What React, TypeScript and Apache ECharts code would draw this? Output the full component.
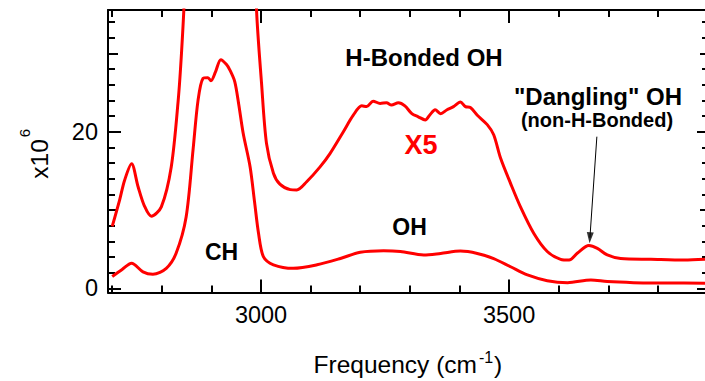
import React, { useEffect, useRef } from "react";
import * as echarts from "echarts";

// ---- data (frequency in cm^-1, signal in units of 10^6) ----
const freqLower = [2700, 2720, 2739, 2762, 2782, 2809, 2829, 2849, 2863, 2873, 2883, 2893, 2899, 2908, 2919, 2930, 2937, 2947, 2955, 2964, 2978, 2987, 2995, 3005, 3025, 3065, 3113, 3160, 3200, 3247, 3281, 3328, 3362, 3402, 3436, 3469, 3503, 3537, 3577, 3618, 3665, 3698, 3751, 3820, 3895];
const valLower = [1.5, 2.4, 3.2, 2.1, 1.8, 2.55, 4.5, 9.1, 17.7, 24.0, 26.8, 26.9, 26.5, 27.6, 29.2, 28.6, 27.9, 26.4, 23.5, 19.8, 15.5, 11.0, 7.0, 4.0, 3.0, 2.55, 3.0, 3.8, 4.6, 4.8, 4.7, 4.25, 4.45, 4.75, 4.45, 3.8, 2.75, 1.7, 0.97, 0.72, 1.06, 0.85, 0.72, 0.68, 0.64];

const freqX5 = [2700, 2715, 2725, 2739, 2752, 2765, 2779, 2799, 2819, 2833, 2840, 2846, 2860, 2900, 2920, 2950, 2975, 2985, 2991, 3001, 3011, 3025, 3038, 3059, 3072, 3092, 3119, 3139, 3166, 3186, 3203, 3213, 3226, 3240, 3253, 3263, 3277, 3290, 3304, 3317, 3331, 3341, 3351, 3362, 3375, 3388, 3402, 3412, 3422, 3436, 3456, 3469, 3483, 3503, 3523, 3550, 3577, 3604, 3621, 3638, 3661, 3678, 3698, 3725, 3786, 3853, 3895];
const valX5 = [7.9, 11.3, 13.8, 15.9, 13.0, 10.5, 9.2, 10.4, 15.5, 24.0, 30.4, 38.0, 70.0, 135.0, 146.0, 130.0, 75.0, 50.0, 35.5, 26.2, 18.5, 14.7, 13.3, 12.6, 12.55, 13.6, 15.5, 17.2, 20.0, 22.1, 23.3, 23.2, 23.9, 23.6, 23.7, 23.4, 23.7, 23.3, 22.3, 21.9, 21.5, 22.2, 22.8, 22.3, 22.8, 23.2, 23.8, 23.2, 23.1, 22.1, 20.9, 19.6, 16.6, 13.4, 10.4, 7.0, 4.7, 3.7, 3.6, 4.5, 5.45, 5.1, 4.25, 3.8, 3.7, 3.6, 3.7];

const xLabelTicks = [3000, 3500];
const xMinorTicks = [2700, 2800, 2900, 3100, 3200, 3300, 3400, 3600, 3700, 3800];
const yLabelTicks = [0, 20];
const yMediumTicks = [10, 30];
const yMinorTicks = [2, 4, 6, 8, 12, 14, 16, 18, 22, 24, 26, 28, 32, 34];
const xRange = [2691.5, 3895];
const yRange = [-0.54, 35.54];

// arrow pointing at the "dangling" OH peak
const arrowStart = [3677, 19.36];
const arrowEnd = [3663, 6.45];
const arrowHead = [3663, 6.45];

const FONT = '"Liberation Sans", Arial, Helvetica, sans-serif';

export default function App() {
  const ref = useRef<HTMLDivElement>(null);

  useEffect(() => {
    document.body.style.margin = "0";
    if (!ref.current) return;
    const chart = echarts.init(ref.current, null, { renderer: "svg" });

    const black = { color: "#000", width: 2 };
    const labelSt = { margin: 10, fontSize: 23.5, color: "#000", fontFamily: FONT, formatter: (v: number) => String(v) };
    const gridBox = { left: 108, top: 10, right: 0, bottom: 88.5, containLabel: false };
    const NGRID = 7;

    const mkAx = (range: number[]) => (gridIndex: number, position: string, opts: { line?: boolean; ticks?: number[]; len?: number; labels?: number[] }) => ({
      type: "value",
      gridIndex,
      position,
      min: range[0],
      max: range[1],
      axisLine: { show: !!opts.line, onZero: false, lineStyle: { ...black } },
      axisTick: opts.ticks
        ? { show: true, inside: true, length: opts.len, customValues: [...opts.ticks], lineStyle: { ...black } }
        : { show: false },
      axisLabel: opts.labels ? { show: true, customValues: [...opts.labels], ...labelSt } : { show: false },
      splitLine: { show: false },
    });
    const xAx = mkAx(xRange);
    const yAx = mkAx(yRange);

    const txt = (text: string, x: number, y: number, size: number, color = "#000", weight = "bold") => ({
      type: "text",
      x,
      y,
      silent: true,
      z: 10,
      style: {
        text,
        fill: color,
        font: `${weight} ${size}px ${FONT}`,
        textAlign: "center",
        textVerticalAlign: "middle",
      },
    });

    chart.setOption({
      animation: false,
      grid: Array.from({ length: NGRID }, () => ({ ...gridBox })),
      xAxis: [
        xAx(0, "bottom", { line: true, labels: xLabelTicks }),
        xAx(1, "bottom", { ticks: xLabelTicks, len: 13 }),
        xAx(2, "bottom", { ticks: xMinorTicks, len: 7 }),
        xAx(3, "top", { line: true, ticks: xLabelTicks, len: 13 }),
        xAx(4, "top", { ticks: xMinorTicks, len: 7 }),
        xAx(5, "bottom", {}),
        xAx(6, "top", {}),
      ],
      yAxis: [
        yAx(0, "left", { line: true, labels: yLabelTicks }),
        yAx(1, "left", { ticks: yLabelTicks, len: 13 }),
        yAx(2, "left", { ticks: yMinorTicks, len: 7 }),
        yAx(3, "right", { ticks: yLabelTicks, len: 8 }),
        yAx(4, "right", { ticks: yMinorTicks, len: 3 }),
        yAx(5, "left", { ticks: yMediumTicks, len: 10 }),
        yAx(6, "right", { ticks: yMediumTicks, len: 5 }),
      ],
      series: [
        {
          type: "line",
          xAxisIndex: 0,
          yAxisIndex: 0,
          data: freqLower.map((f, i) => [f, valLower[i]]),
          showSymbol: false,
          smooth: 0.3,
          clip: true,
          lineStyle: { color: "#ff0000", width: 3 },
        },
        {
          type: "line",
          xAxisIndex: 0,
          yAxisIndex: 0,
          data: freqX5.map((f, i) => [f, valX5[i]]),
          showSymbol: false,
          smooth: 0.3,
          clip: true,
          lineStyle: { color: "#ff0000", width: 3 },
        },
        {
          type: "line",
          xAxisIndex: 0,
          yAxisIndex: 0,
          data: [[...arrowStart], [...arrowEnd]],
          showSymbol: false,
          symbol: "none",
          lineStyle: { color: "#000", width: 1 },
          z: 5,
        },
        {
          type: "scatter",
          xAxisIndex: 0,
          yAxisIndex: 0,
          data: [[...arrowHead]],
          symbol: "triangle",
          symbolSize: [7, 11],
          symbolRotate: 176,
          itemStyle: { color: "#000" },
          z: 5,
        },
      ],
      graphic: [
        txt("H-Bonded OH", 424, 57.5, 24),
        txt("X5", 421, 145, 27, "#ff0000"),
        txt('"Dangling" OH', 598, 96, 24),
        txt("(non-H-Bonded)", 597, 119.5, 20),
        txt("CH", 221.5, 252, 23),
        txt("OH", 409.5, 226.5, 23),
        {
          type: "group",
          x: 0,
          y: 0,
          silent: true,
          children: [
            {
              type: "text",
              x: 477,
              y: 364,
              style: { text: "Frequency (cm", fill: "#000", font: `normal 24.5px ${FONT}`, textAlign: "right", textVerticalAlign: "middle" },
            },
            {
              type: "text",
              x: 479,
              y: 357,
              style: { text: "-1", fill: "#000", font: `normal 16px ${FONT}`, textAlign: "left", textVerticalAlign: "middle" },
            },
            {
              type: "text",
              x: 494,
              y: 364,
              style: { text: ")", fill: "#000", font: `normal 24.5px ${FONT}`, textAlign: "left", textVerticalAlign: "middle" },
            },
          ],
        },
        {
          type: "group",
          x: 39,
          y: 159,
          rotation: Math.PI / 2,
          silent: true,
          children: [
            {
              type: "text",
              x: 0,
              y: 0,
              style: { text: "x10", fill: "#000", font: `normal 24.5px ${FONT}`, textAlign: "center", textVerticalAlign: "middle" },
            },
            {
              type: "text",
              x: 26,
              y: -15,
              style: { text: "6", fill: "#000", font: `normal 15px ${FONT}`, textAlign: "center", textVerticalAlign: "middle" },
            },
          ],
        },
      ],
    });

    return () => chart.dispose();
  }, []);

  return <div ref={ref} style={{ width: 705, height: 381 }} />;
}
